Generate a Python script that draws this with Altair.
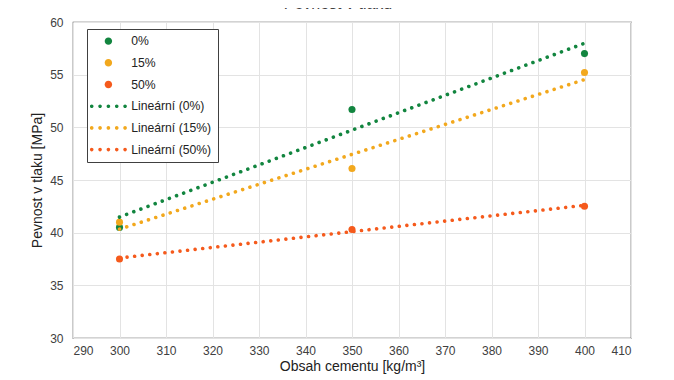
import altair as alt
import pandas as pd

cement = [300, 350, 400]
s0 = [40.5, 51.7, 57.0]
s15 = [41.0, 46.1, 55.2]
s50 = [37.5, 40.3, 42.5]
series_names = ["0%", "15%", "50%"]
trend_names = ["Lineární (0%)", "Lineární (15%)", "Lineární (50%)"]
colors = ["#12853F", "#F2A81D", "#F55A1C"]
x_ticks = list(range(290, 411, 10))
y_ticks = list(range(30, 61, 5))

rows = []
for name, vals in zip(series_names, [s0, s15, s50]):
    for c, v in zip(cement, vals):
        rows.append({"cement": c, "strength": v, "series": name})
df = pd.DataFrame(rows)

domain = series_names + trend_names
rng = colors + colors


def circ(cx, r):
    return f"M{cx - r},0 a{r},{r} 0 1,0 {2 * r},0 a{r},{r} 0 1,0 {-2 * r},0 Z"


dot_path = " ".join(circ(cx, 0.3) for cx in [-2.78, -1.39, 0, 1.39, 2.78])
big_dot = circ(0, 0.62)
is_pt = "indexof(['0%','15%','50%'], datum.value) >= 0"

legend = alt.Legend(
    title=None,
    orient="none",
    legendX=14,
    legendY=7,
    fillColor="white",
    strokeColor="#404040",
    padding=6,
    symbolSize=144,
    symbolType={"expr": f"{is_pt} ? '{big_dot}' : '{dot_path}'"},
    symbolStrokeWidth=0,
    symbolOpacity=1,
    symbolOffset=9.3,
    labelOffset=16.7,
    rowPadding=8.7,
    labelFont="Liberation Sans",
    labelFontSize=12.2,
    labelColor="#222222",
    labelLimit=200,
)

color = alt.Color(
    "label:N", scale=alt.Scale(domain=domain, range=rng), legend=legend
)

x = alt.X(
    "cement:Q",
    scale=alt.Scale(domain=[290, 410], nice=False, zero=False),
    axis=alt.Axis(values=x_ticks, title="Obsah cementu [kg/m³]", ticks=False),
)
y = alt.Y(
    "strength:Q",
    scale=alt.Scale(domain=[30, 60], nice=False, zero=False),
    axis=alt.Axis(values=y_ticks, title="Pevnost v tlaku [MPa]", ticks=False),
)

base = alt.Chart(df)

lines = (
    base.transform_regression("cement", "strength", groupby=["series"])
    .transform_calculate(label="'Lineární (' + datum.series + ')'")
    .mark_line(strokeDash=[0.01, 7.6], strokeCap="round", strokeWidth=3.6)
    .encode(x=x, y=y, color=color, detail="series:N")
)

points = (
    base.transform_calculate(label="datum.series")
    .mark_point(filled=True, size=50, opacity=1, shape="circle")
    .encode(x=x, y=y, color=color)
)

title = (
    alt.Chart(pd.DataFrame({"t": ["Pevnost v tlaku"]}))
    .mark_text(
        font="Liberation Sans",
        fontSize=16,
        color="#404040",
        baseline="bottom",
        align="center",
    )
    .encode(text="t:N", x=alt.value(265), y=alt.value(-10))
)

chart = (
    alt.layer(points, lines, title)
    .properties(
        width=558,
        height=316,
        autosize=alt.AutoSizeParams(type="none"),
        padding={"left": 65, "top": 14, "right": 35, "bottom": 42},
    )
    .configure_view(stroke="#505050", strokeWidth=1.2)
    .configure_axis(
        labelFont="Liberation Sans",
        labelFontSize=12,
        labelColor="#404040",
        titleFont="Liberation Sans",
        titleFontSize=14,
        titleColor="#222222",
        titleFontWeight="normal",
        gridColor="#e3e3e3",
        domain=False,
        labelPadding=10,
    )
    .configure_axisX(titlePadding=3, labelPadding=7)
    .configure_axisY(titlePadding=5)
)

chart.save("out.html", embed_options={"renderer": "svg", "actions": False})
